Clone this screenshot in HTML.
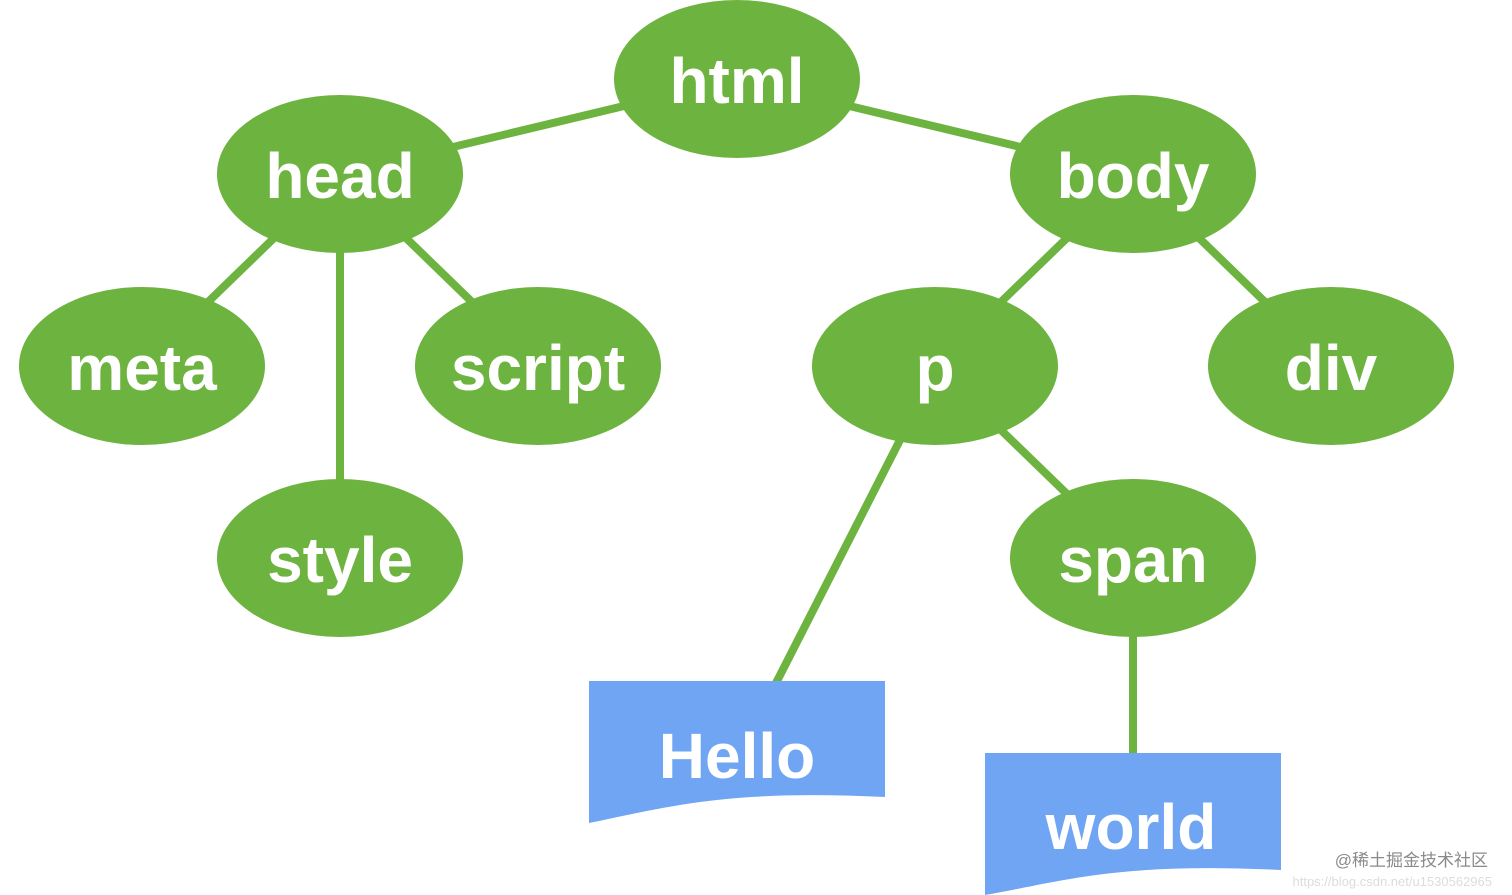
<!DOCTYPE html>
<html><head><meta charset="utf-8"><style>
html,body{margin:0;padding:0;background:#fff;width:1512px;height:895px;overflow:hidden}
svg{display:block}
.t{font-family:"Liberation Sans",sans-serif;font-weight:bold;fill:#fff;font-size:64px;text-anchor:middle}
</style></head><body>
<svg width="1512" height="895" viewBox="0 0 1512 895">
<g stroke="#6db33f" stroke-width="8" fill="none">
<line x1="737" y1="79" x2="340" y2="174"/>
<line x1="737" y1="79" x2="1133" y2="174"/>
<line x1="340" y1="174" x2="142" y2="366"/>
<line x1="340" y1="174" x2="538" y2="366"/>
<line x1="340" y1="174" x2="340" y2="558"/>
<line x1="1133" y1="174" x2="935" y2="366"/>
<line x1="1133" y1="174" x2="1331" y2="366"/>
<line x1="935" y1="366" x2="1133" y2="558"/>
<line x1="900" y1="440" x2="775" y2="685"/>
<line x1="1133" y1="558" x2="1133" y2="757"/>
</g>
<g fill="#6db33f">
<ellipse cx="737" cy="79" rx="123" ry="79"/>
<ellipse cx="340" cy="174" rx="123" ry="79"/>
<ellipse cx="1133" cy="174" rx="123" ry="79"/>
<ellipse cx="142" cy="366" rx="123" ry="79"/>
<ellipse cx="538" cy="366" rx="123" ry="79"/>
<ellipse cx="935" cy="366" rx="123" ry="79"/>
<ellipse cx="1331" cy="366" rx="123" ry="79"/>
<ellipse cx="340" cy="558" rx="123" ry="79"/>
<ellipse cx="1133" cy="558" rx="123" ry="79"/>
</g>
<g fill="#6fa5f2">
<path d="M589 681 H885 V797 C820 794 760 794 700 802 C650 809 620 817 589 823 Z"/>
<path d="M985 753 H1281 V870 C1216 867 1156 867 1096 875 C1046 882 1016 890 985 895 Z"/>
</g>
<g class="t">
<text x="737" y="103">html</text>
<text x="340" y="198">head</text>
<text x="1133" y="198">body</text>
<text x="142" y="390">meta</text>
<text x="538" y="390">script</text>
<text x="935" y="390">p</text>
<text x="1331" y="390">div</text>
<text x="340" y="582">style</text>
<text x="1133" y="582">span</text>
<text x="737" y="778">Hello</text>
<text x="1131" y="849">world</text>
</g>
<text x="1488" y="866" text-anchor="end" font-family="'Liberation Sans','Noto Sans CJK SC',sans-serif" font-size="17" fill="#8a8a8a">@稀土掘金技术社区</text>
<text x="1492" y="886" text-anchor="end" font-family="'Liberation Sans',sans-serif" font-size="13" fill="#dcdcdc">https://blog.csdn.net/u1530562965</text>
</svg>
</body></html>
